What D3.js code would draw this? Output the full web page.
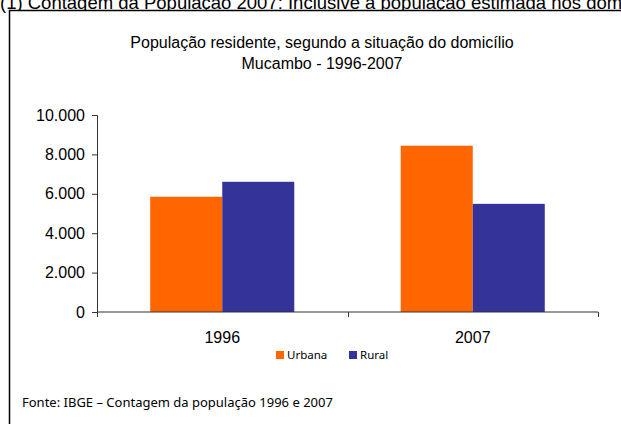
<!DOCTYPE html>
<html><head><meta charset="utf-8">
<script src="https://cdn.jsdelivr.net/npm/d3@7"></script>
<style>body{margin:0;background:#fff}svg{display:block}</style>
</head><body>
<script>
const years = ["1996", "2007"];
const seriesNames = ["Urbana", "Rural"];
const urbana = [5850, 8440];
const rural = [6610, 5490];
const yTicks = [0, 2000, 4000, 6000, 8000, 10000];
const colors = ["#FF6600", "#333399"];
const titleLines = ["População residente, segundo a situação do domicílio", "Mucambo - 1996-2007"];
const noteText = "(1) Contagem da População 2007: Inclusive a população estimada nos dom";
const sourceText = "Fonte: IBGE – Contagem da população 1996 e 2007";

const W = 621, H = 424;
const svg = d3.select("body").append("svg").attr("width", W).attr("height", H);
const font = "'Liberation Sans', Arial, sans-serif";

svg.append("text").attr("x", 0).attr("y", 9).attr("font-family", font).attr("font-size", 18.5)
  .attr("fill", "#000").text(noteText);

svg.append("rect").attr("x", 9.5).attr("y", 10.5).attr("width", 640).attr("height", 440)
  .attr("fill", "#fff").attr("stroke", "#000").attr("stroke-width", 1.5);

const tg = svg.append("g").attr("font-family", font).attr("font-size", 16).attr("text-anchor", "middle");
tg.selectAll("text").data(titleLines).join("text")
  .attr("x", 322).attr("y", (d, i) => 48 + i * 21).text(d => d);

const locale = d3.formatLocale({decimal: ",", thousands: ".", grouping: [3], currency: ["R$", ""]});
const fmt = locale.format(",d");

const y = d3.scaleLinear().domain([0, 10000]).range([312, 115]);
const x0 = d3.scaleBand().domain(years).range([97, 598]).paddingInner(0.425).paddingOuter(0.2125);
const x1 = d3.scaleBand().domain(seriesNames).range([0, x0.bandwidth()]);

const data = years.map((yr, i) => ({year: yr, values: [urbana[i], rural[i]]}));

const groups = svg.append("g").selectAll("g").data(data).join("g")
  .attr("transform", d => `translate(${x0(d.year)},0)`);
groups.selectAll("rect").data(d => d.values.map((v, j) => ({name: seriesNames[j], v, j}))).join("rect")
  .attr("x", d => x1(d.name)).attr("width", x1.bandwidth())
  .attr("y", d => y(d.v)).attr("height", d => y(0) - y(d.v))
  .attr("fill", d => colors[d.j]);

// y axis
const ya = svg.append("g").attr("transform", "translate(97,0)")
  .call(d3.axisLeft(y).tickValues(yTicks).tickFormat(fmt).tickSize(5).tickPadding(7));
ya.select(".domain").attr("stroke", "#333");
ya.selectAll(".tick line").attr("stroke", "#333");
ya.selectAll("text").attr("font-family", font).attr("font-size", 16).attr("fill", "#000");

// x axis
const xa = svg.append("g").attr("transform", "translate(0,312)");
xa.append("line").attr("x1", 97).attr("x2", 598).attr("stroke", "#333");
const step = x0.step();
const bounds = [x0.range()[0]].concat(years.map(d => x0(d) + x0.bandwidth() + step * x0.paddingInner() / 2));
bounds[bounds.length - 1] = x0.range()[1];
xa.selectAll("line.tk").data(bounds).join("line").attr("class", "tk")
  .attr("x1", d => Math.round(d) + 0.5).attr("x2", d => Math.round(d) + 0.5).attr("y1", 0).attr("y2", 5)
  .attr("stroke", "#333");
xa.selectAll("text").data(years).join("text")
  .attr("x", d => x0(d) + x0.bandwidth() / 2).attr("y", 31)
  .attr("text-anchor", "middle").attr("font-family", font).attr("font-size", 16).text(d => d);

// legend
const lfont = "'Noto Sans', 'DejaVu Sans', sans-serif";
const legX = [276, 349];
const lg = svg.append("g").selectAll("g").data(seriesNames).join("g")
  .attr("transform", (d, i) => `translate(${legX[i]},351)`);
lg.append("rect").attr("width", 8).attr("height", 8).attr("fill", (d, i) => colors[i]);
lg.append("text").attr("x", 11).attr("y", 8).attr("font-family", lfont).attr("font-size", 11.5)
  .text(d => d);

svg.append("text").attr("x", 22).attr("y", 407).attr("font-family", lfont).attr("font-size", 13)
  .text(sourceText);
</script>
</body></html>
